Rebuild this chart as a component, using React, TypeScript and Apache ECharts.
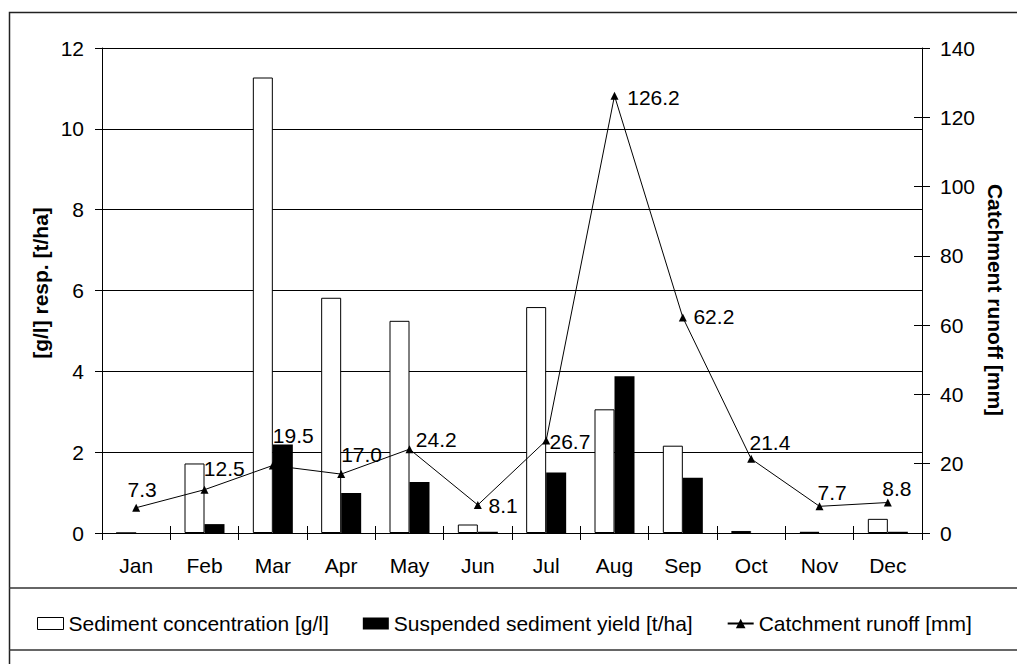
import React, { useEffect, useRef } from "react";
import * as echarts from "echarts";

const months = ["Jan", "Feb", "Mar", "Apr", "May", "Jun", "Jul", "Aug", "Sep", "Oct", "Nov", "Dec"];
const sedimentConcentration = [0, 1.72, 11.27, 5.82, 5.25, 0.21, 5.59, 3.06, 2.16, 0.05, 0.03, 0.35];
const sedimentYield = [0, 0.22, 2.19, 0.99, 1.26, 0.03, 1.5, 3.88, 1.37, 0, 0, 0.03];
const catchmentRunoff = [7.3, 12.5, 19.5, 17.0, 24.2, 8.1, 26.7, 126.2, 62.2, 21.4, 7.7, 8.8];

const seriesNames = [
  "Sediment concentration [g/l]",
  "Suspended sediment yield [t/ha]",
  "Catchment runoff [mm]",
];
const leftAxisTitle = "[g/l] resp. [t/ha]";
const rightAxisTitle = "Catchment runoff [mm]";

// label placement offsets (style only): [dx from marker, dy from marker]
const labelOffsets = [
  [-8.7, -18], [-0.7, -20.7], [0, -29.5], [0, -20], [6.3, -9.5], [10.7, 0.5],
  [3.3, 1], [12.7, 2], [10.6, -1], [-1.7, -16], [-2, -14], [-5.6, -13.6],
];

const FONT = "'Liberation Sans', Arial, sans-serif";

export default function App() {
  const ref = useRef<HTMLDivElement>(null);

  useEffect(() => {
    if (!ref.current) return;
    const chart = echarts.init(ref.current, undefined, { renderer: "svg" });
    const txt = { fontFamily: FONT, fontSize: 21, color: "#000" };

    chart.setOption({
      animation: false,
      backgroundColor: "#fff",
      textStyle: { fontFamily: FONT },
      grid: { left: 102, right: 95, top: 48, bottom: 131, containLabel: false },
      legend: {
        left: 32,
        top: 608,
        itemWidth: 26,
        itemHeight: 12,
        itemGap: 34,
        textStyle: { ...txt },
        data: [
          { name: seriesNames[0], icon: "rect", itemStyle: { color: "#fff", borderColor: "#000", borderWidth: 1 } },
          { name: seriesNames[1], icon: "rect" },
          { name: seriesNames[2] },
        ],
      },
      xAxis: [
        {
          type: "category",
          data: months,
          boundaryGap: true,
          axisLine: { show: true, lineStyle: { color: "#000", width: 1 } },
          axisTick: { show: true, length: 7, lineStyle: { color: "#000" } },
          axisLabel: { ...txt, margin: 22 },
          splitLine: { show: false },
        },
        {
          type: "category",
          data: months,
          position: "bottom",
          boundaryGap: true,
          axisLine: { show: false },
          axisTick: { show: true, inside: true, length: 7, lineStyle: { color: "#000" } },
          axisLabel: { show: false },
          splitLine: { show: false },
        },
      ],
      yAxis: [
        {
          type: "value",
          position: "left",
          min: 0,
          max: 12,
          interval: 2,
          axisLine: { show: true, lineStyle: { color: "#000", width: 1 } },
          axisTick: { show: true, length: 7, lineStyle: { color: "#000" } },
          axisLabel: { ...txt, margin: 18 },
          splitLine: { show: true, lineStyle: { color: "#000", width: 1 } },
        },
        {
          type: "value",
          position: "right",
          min: 0,
          max: 140,
          interval: 20,
          axisLine: { show: true, lineStyle: { color: "#000", width: 1 } },
          axisTick: { show: true, length: 8, lineStyle: { color: "#000" } },
          axisLabel: { ...txt, margin: 18 },
          splitLine: { show: false },
        },
        {
          type: "value",
          position: "right",
          min: 0,
          max: 140,
          interval: 20,
          axisLine: { show: false },
          axisTick: { show: true, inside: true, length: 8, lineStyle: { color: "#000" } },
          axisLabel: { show: false },
          splitLine: { show: false },
        },
      ],
      series: [
        {
          name: seriesNames[0],
          type: "bar",
          xAxisIndex: 0,
          yAxisIndex: 0,
          data: sedimentConcentration,
          barWidth: 20,
          barGap: "0%",
          itemStyle: { color: "#fff", borderColor: "#000", borderWidth: 1 },
        },
        {
          name: seriesNames[1],
          type: "bar",
          xAxisIndex: 0,
          yAxisIndex: 0,
          data: sedimentYield,
          barWidth: 20,
          barGap: "0%",
          itemStyle: { color: "#000" },
        },
        {
          name: seriesNames[2],
          type: "line",
          xAxisIndex: 0,
          yAxisIndex: 1,
          z: 5,
          symbol: "triangle",
          symbolSize: 8,
          lineStyle: { color: "#000", width: 1 },
          itemStyle: { color: "#000" },
          data: catchmentRunoff.map((v, i) => ({
            value: v,
            label: {
              show: true,
              position: "right",
              distance: 0,
              offset: [labelOffsets[i][0] - 4, labelOffsets[i][1]],
              formatter: () => v.toFixed(1),
              ...txt,
            },
          })),
        },
      ],
      graphic: [
        {
          type: "rect",
          shape: { x: 9.5, y: 12.5, width: 1100, height: 700 },
          style: { fill: "none", stroke: "#222", lineWidth: 1.5 },
          silent: true,
        },
        {
          type: "line",
          shape: { x1: 9, y1: 588, x2: 1017, y2: 588 },
          style: { stroke: "#333", lineWidth: 1.5 },
          silent: true,
        },
        {
          type: "line",
          shape: { x1: 9, y1: 650, x2: 1017, y2: 650 },
          style: { stroke: "#333", lineWidth: 1.5 },
          silent: true,
        },
        {
          type: "text",
          x: 40,
          y: 283,
          rotation: Math.PI / 2,
          style: {
            text: leftAxisTitle,
            fontFamily: FONT,
            fontSize: 21,
            fontWeight: "bold",
            fill: "#000",
            align: "center",
            verticalAlign: "middle",
          },
        },
        {
          type: "text",
          x: 995,
          y: 300,
          rotation: -Math.PI / 2,
          style: {
            text: rightAxisTitle,
            fontFamily: FONT,
            fontSize: 21,
            fontWeight: "bold",
            fill: "#000",
            align: "center",
            verticalAlign: "middle",
          },
        },
      ],
    });

    return () => chart.dispose();
  }, []);

  return (
    <div
      ref={ref}
      style={{ position: "absolute", left: 0, top: 0, width: 1017, height: 664, background: "#fff" }}
    />
  );
}
